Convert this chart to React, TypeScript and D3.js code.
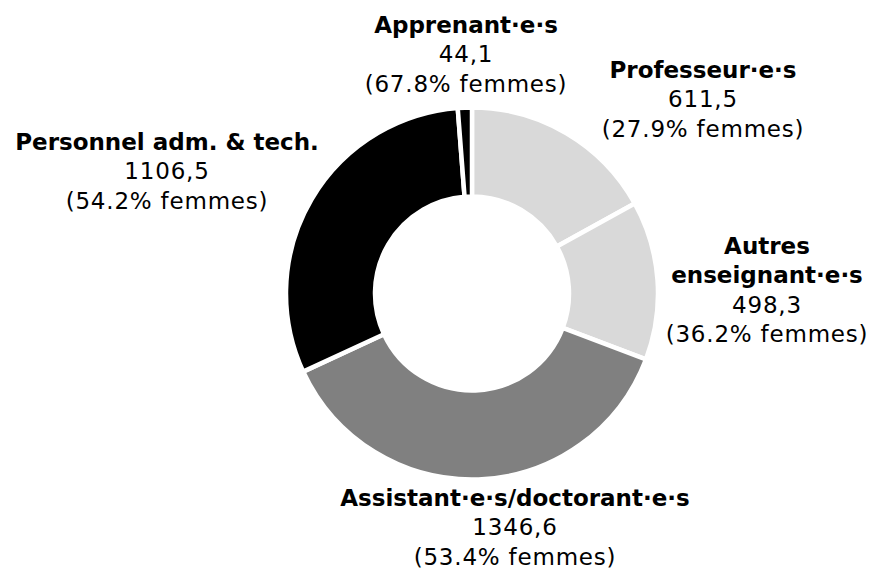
import React, { useRef, useEffect } from "react";
import * as d3 from "d3";

// categories in clockwise order starting at 12 o'clock
const categories = [
  "Professeur·e·s",
  "Autres enseignant·e·s",
  "Assistant·e·s/doctorant·e·s",
  "Personnel adm. & tech.",
  "Apprenant·e·s",
];
const values = [611.5, 498.3, 1346.6, 1106.5, 44.1];
const valueLabels = ["611,5", "498,3", "1346,6", "1106,5", "44,1"];
const womenShare = [27.9, 36.2, 53.4, 54.2, 67.8];
const titleLines = [
  ["Professeur·e·s"],
  ["Autres", "enseignant·e·s"],
  ["Assistant·e·s/doctorant·e·s"],
  ["Personnel adm. & tech."],
  ["Apprenant·e·s"],
];
const colors = ["#d9d9d9", "#d9d9d9", "#808080", "#000000", "#000000"];

// hand placed label anchors (center x, first baseline)
const labelAnchors = [
  [703, 78],
  [767, 254],
  [515, 506],
  [167, 150],
  [466, 33],
];

const W = 876, H = 571;

const App = () => {
  const svgRef = useRef(null);

  useEffect(() => {
    const svg = d3.select(svgRef.current);
    svg.selectAll("*").remove();

    const cx = 472, cy = 293.5, outerR = 186, innerR = 97;
    const rows = categories.map((c, i) => ({ c, v: values[i], i }));

    const pie = d3.pie<any>().value(d => d.v).sort(null);
    const arc = d3.arc<any>().innerRadius(innerR).outerRadius(outerR);

    const g = svg.append("g").attr("transform", `translate(${cx},${cy})`);
    g.selectAll("path")
      .data(pie(rows))
      .enter()
      .append("path")
      .attr("d", arc)
      .attr("fill", d => colors[d.data.i])
      .attr("stroke", "#fff")
      .attr("stroke-width", 4.5)
      .attr("stroke-linejoin", "round");

    const lh = 29.3;
    const labels = svg.append("g")
      .attr("font-family", "'DejaVu Sans', Verdana, sans-serif")
      .attr("font-size", 23)
      .attr("fill", "#000")
      .attr("text-anchor", "middle");

    rows.forEach((d, i) => {
      const [x, y] = labelAnchors[i];
      const lines = [
        ...titleLines[i].map(t => ({ t, bold: true })),
        { t: valueLabels[i], bold: false },
        { t: `(${womenShare[i].toFixed(1)}% femmes)`, bold: false },
      ];
      const text = labels.append("text").attr("x", x).attr("y", y);
      lines.forEach((l, k) => {
        text.append("tspan")
          .attr("x", x)
          .attr("dy", k === 0 ? 0 : lh)
          .attr("font-weight", l.bold ? "bold" : "normal")
          .attr("letter-spacing", l.bold ? 0 : 0.8)
          .text(l.t);
      });
    });
  }, []);

  return (
    <svg ref={svgRef} width={W} height={H} style={{ display: "block", position: "absolute", left: 0, top: 0 }}></svg>
  );
};

export default App;
